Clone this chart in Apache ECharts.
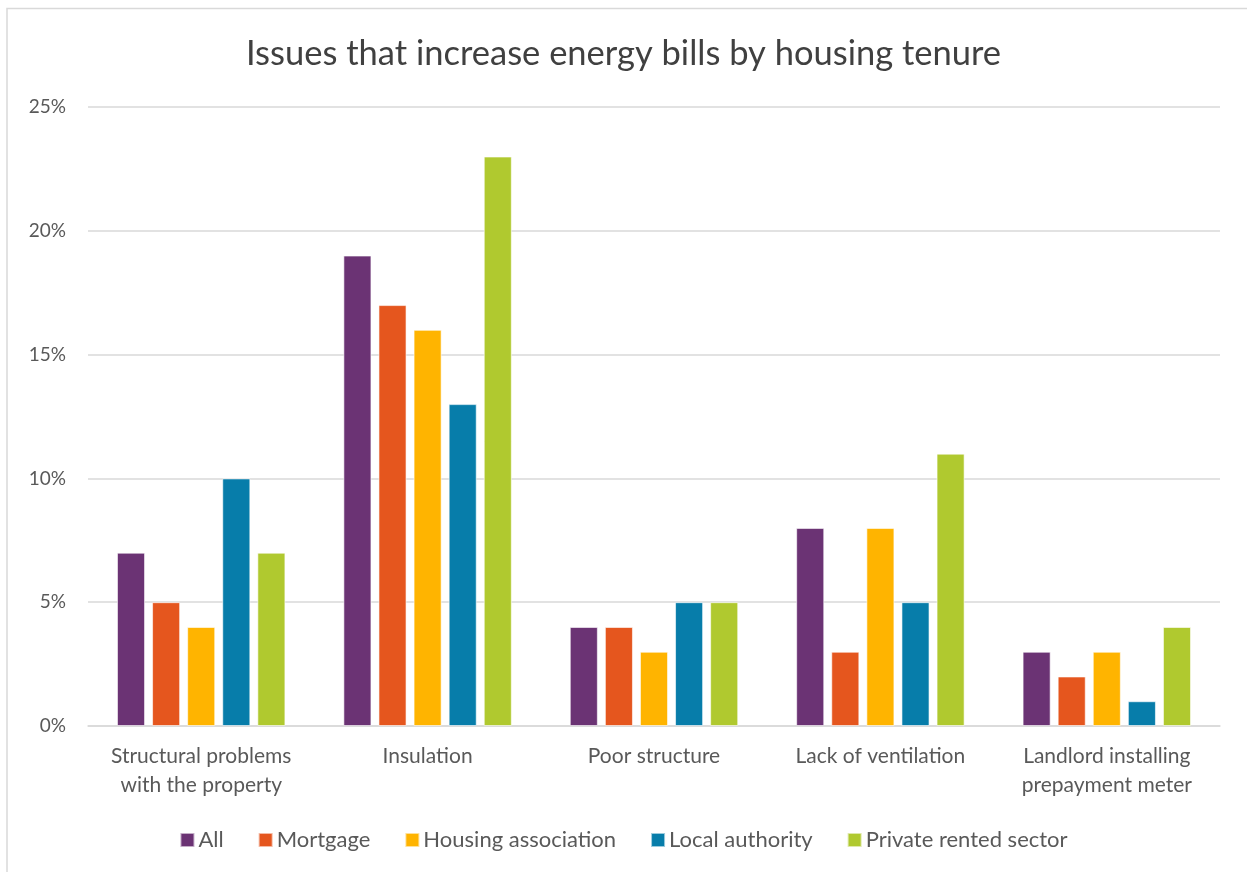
<!DOCTYPE html>
<html>
<head>
<meta charset="utf-8">
<script src="https://cdn.jsdelivr.net/npm/echarts@6/dist/echarts.min.js"></script>
<style>
  html, body { margin: 0; padding: 0; background: #fff; }
  #chart { width: 1247px; height: 872px; }
</style>
</head>
<body>
<div id="chart"></div>
<script>
// Share of households reporting each issue, by housing tenure (%)
const categories = [
  'Structural problems\nwith the property',
  'Insulation',
  'Poor structure',
  'Lack of ventilation',
  'Landlord installing\nprepayment meter'
];
const seriesNames = ['All', 'Mortgage', 'Housing association', 'Local authority', 'Private rented sector'];
const allValues       = [7, 19, 4, 8, 3];
const mortgageValues  = [5, 17, 4, 3, 2];
const housingAssoc    = [4, 16, 3, 8, 3];
const localAuthority  = [10, 13, 5, 5, 1];
const privateRented   = [7, 23, 5, 11, 4];
const yTicks = [0, 5, 10, 15, 20, 25];

const colors = ['#6B3374', '#E5561E', '#FFB400', '#077DAA', '#B0C92F'];
const seriesValues = [allValues, mortgageValues, housingAssoc, localAuthority, privateRented];
const fontFamily = 'Lato, "Open Sans", sans-serif';

const chart = echarts.init(document.getElementById('chart'), null, { renderer: 'canvas' });
chart.setOption({
  backgroundColor: '#fff',
  animation: false,
  color: colors,
  title: {
    text: 'Issues that increase energy bills by housing tenure',
    left: 'center',
    top: 31,
    textStyle: { fontFamily, fontSize: 34.5, fontWeight: 'normal', color: '#404040' }
  },
  graphic: [{
    type: 'rect',
    shape: { x: 7, y: 8.5, width: 1260, height: 900 },
    style: { fill: 'none', stroke: '#d9d9d9', lineWidth: 1.5 },
    silent: true
  }],
  legend: {
    bottom: 16,
    left: 'center',
    itemWidth: 14,
    itemHeight: 14,
    itemGap: 34,
    icon: 'rect',
    textStyle: { fontFamily, fontSize: 22, color: '#595959', padding: [0, 0, 0, -1] },
    data: seriesNames
  },
  grid: { left: 88, right: 27, top: 107, bottom: 146 },
  xAxis: {
    type: 'category',
    data: categories,
    axisLine: { show: true, lineStyle: { color: '#d9d9d9', width: 1.5 } },
    axisTick: { show: false },
    axisLabel: { fontFamily, fontSize: 21, color: '#595959', margin: 16, lineHeight: 29, interval: 0 }
  },
  yAxis: {
    type: 'value',
    min: 0,
    max: 25,
    interval: 5,
    axisLine: { show: false },
    axisTick: { show: false },
    splitLine: { lineStyle: { color: '#d9d9d9', width: 1.5 } },
    axisLabel: {
      fontFamily, fontSize: 19, color: '#595959', margin: 22,
      formatter: v => (yTicks.includes(v) ? v + '%' : '')
    }
  },
  series: seriesNames.map((name, i) => ({
    name,
    type: 'bar',
    data: seriesValues[i],
    barGap: '25%',
    barCategoryGap: '25.6%',
    itemStyle: { color: colors[i], borderColor: 'rgba(255,255,255,0.6)', borderWidth: 1 }
  }))
});
</script>
</body>
</html>
